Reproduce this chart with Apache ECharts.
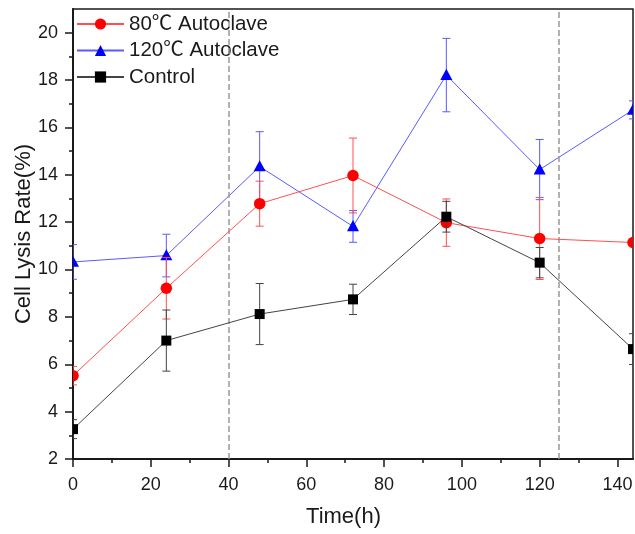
<!DOCTYPE html>
<html>
<head>
<meta charset="utf-8">
<script src="https://cdn.jsdelivr.net/npm/echarts@6/dist/echarts.min.js"></script>
<style>
  html, body { margin: 0; padding: 0; background: #fff; }
  #chart { width: 635px; height: 534px; }
</style>
</head>
<body>
<div id="chart"></div>
<script>
// Sampling times (h)
const time = [0, 24, 48, 72, 96, 120, 144];

// Cell lysis rate (%) and standard deviations
const auto80 = [5.52, 9.21, 12.78, 13.97, 11.98, 11.31, 11.14];
const auto80Err = [0.39, 1.30, 0.95, 1.58, 1.00, 1.73, 0];
const auto120 = [10.32, 10.59, 14.35, 11.82, 18.21, 14.22, 16.74];
const auto120Err = [0.73, 0.90, 1.47, 0.67, 1.55, 1.27, 0.38];
const control = [3.26, 7.00, 8.12, 8.74, 12.23, 10.29, 6.64];
const controlErr = [0.40, 1.29, 1.29, 0.64, 0.65, 0.64, 0.65];

// Axis ticks
const xMajorTicks = [0, 20, 40, 60, 80, 100, 120, 140];
const xMinorTicks = [10, 30, 50, 70, 90, 110, 130];
const yMajorTicks = [2, 4, 6, 8, 10, 12, 14, 16, 18, 20];
const yMinorTicks = [3, 5, 7, 9, 11, 13, 15, 17, 19];

// Vertical reference lines (h)
const guideTimes = [40, 125];

const FONT = '"Liberation Sans", Arial, "Noto Sans CJK SC", sans-serif';

function pairs(vals) {
  return time.map((t, i) => [t, vals[i]]);
}
function triples(vals, errs) {
  return time.map((t, i) => [t, vals[i], errs[i]]);
}

// Error bar with caps plus the point marker, clipped to the plot area
function errorRenderer(shape, size, markColor, barColor) {
  return function (params, api) {
    const x = api.value(0), y = api.value(1), e = api.value(2);
    const c = api.coord([x, y]);
    const hi = api.coord([x, y + e]);
    const lo = api.coord([x, y - e]);
    const cap = 4;
    const children = [];
    if (e > 0) {
      const ls = { stroke: barColor, lineWidth: 1 };
      children.push({ type: 'line', shape: { x1: c[0], y1: hi[1], x2: c[0], y2: lo[1] }, style: ls });
      children.push({ type: 'line', shape: { x1: c[0] - cap, y1: hi[1], x2: c[0] + cap, y2: hi[1] }, style: ls });
      children.push({ type: 'line', shape: { x1: c[0] - cap, y1: lo[1], x2: c[0] + cap, y2: lo[1] }, style: ls });
    }
    const h = size / 2;
    if (shape === 'circle') {
      children.push({ type: 'circle', shape: { cx: c[0], cy: c[1], r: h }, style: { fill: markColor } });
    } else if (shape === 'rect') {
      children.push({ type: 'rect', shape: { x: c[0] - h, y: c[1] - h, width: size, height: size }, style: { fill: markColor } });
    } else {
      children.push({ type: 'polygon', shape: { points: [[c[0], c[1] - h * 1.05], [c[0] + h, c[1] + h * 0.8], [c[0] - h, c[1] + h * 0.8]] }, style: { fill: markColor } });
    }
    return { type: 'group', children: children };
  };
}

const groups = [
  { name: '120℃ Autoclave', vals: auto120, errs: auto120Err, symbol: 'triangle', shape: 'triangle', size: 12, mark: '#0000ff', line: '#5a5aff' },
  { name: '80℃ Autoclave', vals: auto80, errs: auto80Err, symbol: 'circle', shape: 'circle', size: 11.5, mark: '#ff0000', line: '#ff5050' },
  { name: 'Control', vals: control, errs: controlErr, symbol: 'rect', shape: 'rect', size: 10, mark: '#000000', line: '#444444' }
];

const series = [];
groups.forEach((g, gi) => {
  const s = {
    name: g.name,
    type: 'line',
    data: pairs(g.vals),
    symbol: g.symbol,
    showSymbol: false,
    symbolSize: g.size,
    itemStyle: { color: g.mark },
    lineStyle: { color: g.line, width: 1 },
    z: 2 + gi * 3,
    animation: false
  };
  if (gi === 0) {
    s.markLine = {
      silent: true,
      symbol: 'none',
      label: { show: false },
      lineStyle: { color: '#999999', type: [6, 3], width: 1.5 },
      data: guideTimes.map(t => ({ xAxis: t }))
    };
  }
  series.push(s);
  series.push({
    name: g.name + ' err',
    type: 'custom',
    clip: true,
    z: 3 + gi * 3,
    renderItem: errorRenderer(g.shape, g.size, g.mark, g.line),
    data: triples(g.vals, g.errs),
    animation: false
  });
});

const labelStyle = { fontFamily: FONT, fontSize: 18, color: '#1a1a1a' };

const chart = echarts.init(document.getElementById('chart'), null, { renderer: 'canvas' });
chart.setOption({
  animation: false,
  backgroundColor: '#ffffff',
  grid: {
    left: 73, right: 2, top: 9, bottom: 75,
    containLabel: false, outerBoundsMode: 'none',
    show: true, borderColor: '#1a1a1a', borderWidth: 1.5, backgroundColor: 'transparent'
  },
  legend: {
    data: ['80℃ Autoclave', '120℃ Autoclave', 'Control'],
    orient: 'vertical',
    left: 76, top: 13.5, padding: 0,
    itemWidth: 47, itemHeight: 14, itemGap: 5.5,
    textStyle: { fontFamily: FONT, fontSize: 20.5, color: '#1a1a1a', lineHeight: 21 }
  },
  xAxis: [
    {
      type: 'value', min: 0, max: 144, position: 'bottom',
      name: 'Time(h)', nameLocation: 'middle', nameGap: 47, nameMoveOverlap: false,
      nameTextStyle: { fontFamily: FONT, fontSize: 22, color: '#1a1a1a', padding: [0, 19, 0, 0] },
      axisLine: { show: true, lineStyle: { color: '#1a1a1a', width: 2 } },
      axisTick: { show: true, customValues: xMajorTicks, length: 8, lineStyle: { color: '#1a1a1a', width: 1.5 } },
      axisLabel: Object.assign({ customValues: xMajorTicks, margin: 17 }, labelStyle),
      splitLine: { show: false }
    },
    {
      type: 'value', min: 0, max: 144, position: 'bottom',
      axisLine: { show: false },
      axisTick: { show: true, customValues: xMinorTicks, length: 4, lineStyle: { color: '#1a1a1a', width: 1.5 } },
      axisLabel: { show: false },
      splitLine: { show: false }
    }
  ],
  yAxis: [
    {
      type: 'value', min: 2, max: 21, position: 'left',
      name: 'Cell Lysis Rate(%)', nameLocation: 'middle', nameGap: 38, nameMoveOverlap: false,
      nameTextStyle: { fontFamily: FONT, fontSize: 22, color: '#1a1a1a' },
      axisLine: { show: true, lineStyle: { color: '#1a1a1a', width: 2 } },
      axisTick: { show: true, customValues: yMajorTicks, length: 8, lineStyle: { color: '#1a1a1a', width: 1.5 } },
      axisLabel: Object.assign({ customValues: yMajorTicks, margin: 15 }, labelStyle),
      splitLine: { show: false }
    },
    {
      type: 'value', min: 2, max: 21, position: 'left',
      axisLine: { show: false },
      axisTick: { show: true, customValues: yMinorTicks, length: 4, lineStyle: { color: '#1a1a1a', width: 1.5 } },
      axisLabel: { show: false },
      splitLine: { show: false }
    }
  ],
  series: series
});
</script>
</body>
</html>
